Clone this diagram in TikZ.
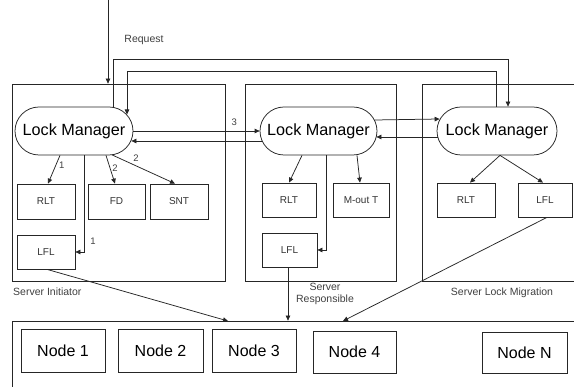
\documentclass[tikz,border=0pt]{standalone}
\usepackage{fontspec}
\setmainfont{Liberation Sans}
\usetikzlibrary{arrows.meta}
\begin{document}
\begin{tikzpicture}[x=1pt,y=-1pt,
  line/.style={draw=black!85, line width=0.75pt},
  arr/.style={line, -{Triangle[length=5pt,width=4.5pt]}},
  server/.style={line, rectangle, inner sep=0pt},
  manager/.style={line, rectangle, rounded corners=24pt, minimum width=118pt,
    minimum height=48pt, inner sep=0pt, font=\fontsize{16.2}{18}\selectfont},
  table/.style={line, rectangle, minimum width=56pt, minimum height=34pt,
    inner sep=0pt, font=\fontsize{10}{12}\selectfont, text=black!80},
  member/.style={line, rectangle, minimum width=84pt, minimum height=42pt,
    inner sep=0pt, font=\fontsize{16}{18}\selectfont},
  caption/.style={font=\fontsize{10.5}{12}\selectfont, text=black!75, inner sep=0pt},
  num/.style={font=\fontsize{9.5}{10}\selectfont, text=black!75, inner sep=0pt}]
\clip (0,0) rectangle (574,387);
\fill[white] (0,0) rectangle (574,387);

% server containers
\node[server, minimum width=213pt, minimum height=197pt] (srv1) at (118.5,182.5) {};
\node[server, minimum width=151pt, minimum height=197pt] (srv2) at (320.5,182.5) {};
\node[server, minimum width=160pt, minimum height=197pt] (srv3) at (502,182.5) {};
\node[server, minimum width=572pt, minimum height=90pt] (cluster) at (298,366) {};

% lock managers
\node[manager] (LM1) at (74,131) {Lock Manager};
\node[manager, minimum width=117pt] (LM2) at (318.5,131) {Lock Manager};
\node[manager, minimum width=120pt] (LM3) at (497,131) {Lock Manager};

% tables of the initiator
\node[table, minimum width=58pt, minimum height=35pt] (RLT1) at (46,201.5) {RLT};
\node[table, minimum width=57pt, minimum height=35pt] (FD) at (116.5,201.5) {FD};
\node[table, minimum width=58pt, minimum height=35pt] (SNT) at (179,201.5) {SNT};
\node[table, minimum width=58pt] (LFL1) at (46,252) {LFL};

% tables of the responsible server
\node[table, minimum width=54pt] (RLT2) at (289,200) {RLT};
\node[table] (MoutT) at (361,200) {M-out T};
\node[table, minimum width=55pt] (LFL2) at (289.5,250) {LFL};

% tables of the migration server
\node[table, minimum width=58pt] (RLT3) at (466,200) {RLT};
\node[table, minimum width=54pt] (LFL3) at (545,200) {LFL};

% cluster nodes
\node[member, minimum height=43pt] (N1) at (63,350.5) {Node 1};
\node[member, minimum width=85pt, minimum height=43pt] (N2) at (160.5,350.5) {Node 2};
\node[member, minimum height=43pt] (N3) at (254,350.5) {Node 3};
\node[member, minimum width=83pt] (N4) at (354.5,352) {Node 4};
\node[member, minimum width=85pt, minimum height=41pt] (NN) at (524.5,352.5) {Node N};

% captions
\node[caption, anchor=west] (capI) at (13,292) {Server Initiator};
\node[caption, align=center] (capR) at (325,294) {Server\\Responsible};
\node[caption] (capM) at (502,293) {Server Lock Migration};
\node[caption] (capReq) at (144,40) {Request};

% incoming request
\coordinate (req) at (108,0);
\draw[arr] (req) -- (req |- srv1.north);

% links over the top
\coordinate (lm1in) at (127,114.5);
\draw[arr] ([shift={(39,0)}]LM1.north) -- ++(0,-47) -| ([shift={(11,0)}]LM3.north);
\draw[arr] ([shift={(-1,0)}]LM3.north) -- ++(0,-35) -| (lm1in);

% links between managers
\draw[arr] (LM1.east) -- (LM2.west) node[num, pos=0.8, above=5pt] {3};
\draw[arr] ([shift={(2,10)}]LM2.west) -- ([shift={(-2,10)}]LM1.east);
\draw[arr] ([shift={(-3,-11)}]LM2.east) -- ([shift={(3,-12)}]LM3.west);
\draw[arr] ([shift={(1,6)}]LM3.west) -- ([shift={(-1,6)}]LM2.east);

% initiator manager to its tables
\draw[arr] ([shift={(-14,0)}]LM1.south) -- ([shift={(2,0)}]RLT1.north)
  node[num, pos=0.35, right=3pt] {1};
\draw[arr] ([shift={(32,0)}]LM1.south) -- ([shift={(-1.5,0)}]FD.north)
  node[num, pos=0.45, right=2pt] {2};
\draw[arr] ([shift={(38,-0.5)}]LM1.south) -- ([shift={(-4,0)}]SNT.north)
  node[num, pos=0.3, above right=2pt] {2};
\draw[arr] ([shift={(10,0)}]LM1.south) |- (LFL1.east);
\node[num] (n1b) at (93,241) {1};

% responsible manager to its tables
\draw[arr] ([shift={(-16.5,0)}]LM2.south) -- (RLT2.north);
\draw[arr] ([shift={(38.5,0)}]LM2.south) -- ([shift={(-1,0)}]MoutT.north);
\draw[arr] ([shift={(7.5,0)}]LM2.south) |- (LFL2.east);

% migration manager to its tables
\draw[arr] ([shift={(3,0)}]LM3.south) -- ([shift={(4,0)}]RLT3.north);
\draw[arr] ([shift={(3,0)}]LM3.south) -- ([shift={(-2,0)}]LFL3.north);

% lock lists to the cluster
\coordinate (tgt1) at (228,321);
\coordinate (tgt3) at (343,321);
\draw[arr] ([shift={(1,0)}]LFL1.south) -- (tgt1);
\draw[arr] ([shift={(-1.5,0)}]LFL2.south) -- ([shift={(-1.5,0)}]LFL2.south |- cluster.north);
\draw[arr] ([shift={(2,0)}]LFL3.south) -- (tgt3);
\end{tikzpicture}
\end{document}
